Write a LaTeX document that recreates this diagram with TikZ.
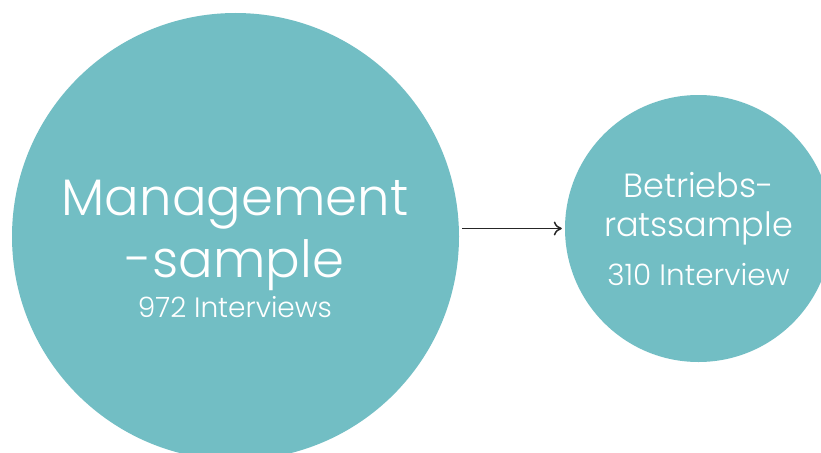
\documentclass[tikz,border=0pt]{standalone}
\usepackage{fontspec}
\setmainfont{Poppins}[UprightFont=* Light]
\usetikzlibrary{arrows.meta}
\definecolor{teal}{HTML}{72BEC4}
\tikzset{
  blob/.style={circle, fill=teal, draw=none, inner sep=0pt},
  txt/.style={text=white, anchor=base, inner sep=0pt},
  conn/.style={-{To[length=8pt,width=14pt]}, line width=1.5pt, draw=black!85}
}
\begin{document}
\begin{tikzpicture}[x=1pt,y=-1pt]
\useasboundingbox (0,0) rectangle (821,452);
\clip (0,0) rectangle (821,452);
\fill[white] (0,0) rectangle (821,452);
\node[blob, minimum size=447pt] (big) at (235.5,236.5) {};
\node[blob, minimum size=267pt] (small) at (698.5,228.5) {};
\node[txt, font=\fontsize{51.3}{60}\selectfont] (m1) at (235,215) {Management};
\node[txt, font=\fontsize{51.3}{60}\selectfont] (m2) at (235,277) {-sample};
\node[txt, font=\fontsize{28}{30}\selectfont] (m3) at (235,317) {972 Interviews};
\node[txt, font=\fontsize{33.5}{40}\selectfont] (b1) at (698.5,197) {Betriebs-};
\node[txt, font=\fontsize{33.5}{40}\selectfont] (b2) at (698.5,236) {ratssample};
\node[txt, font=\fontsize{29.5}{30}\selectfont] (b3) at (698.5,285) {310 Interview};
\draw[conn, shorten <=3pt, shorten >=3pt] (big.east |- 0,228.5) coordinate (s) -- (small.west);
\end{tikzpicture}
\end{document}
